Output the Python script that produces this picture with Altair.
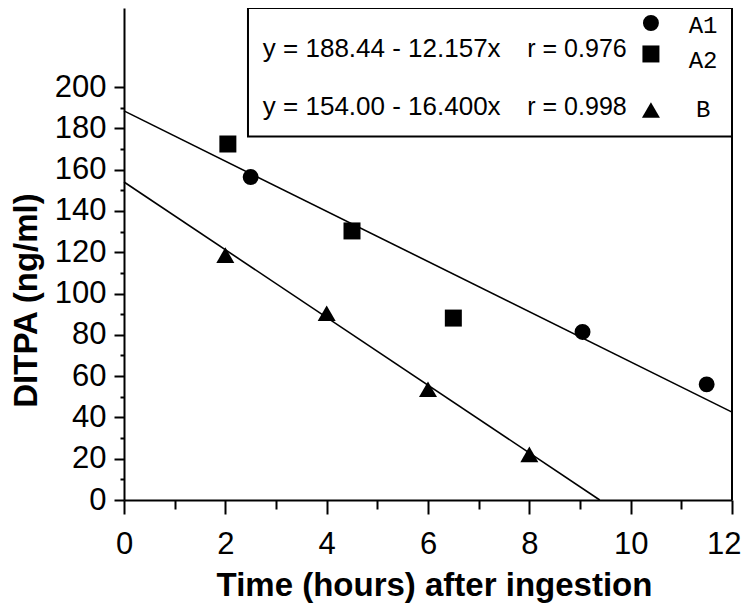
import altair as alt
import pandas as pd

# ---------------- data ----------------
series_names = ["A1", "A2", "B"]
a1_time = [2.5, 9.05, 11.5]
a1_conc = [156.4, 81.4, 56.0]
a2_time = [2.05, 4.5, 6.5]
a2_conc = [172.4, 130.3, 88.1]
b_time = [2.0, 4.0, 6.0, 8.0]
b_conc = [118.6, 90.4, 53.6, 22.1]

fit_names = ["A", "B"]
fit_intercepts = [188.44, 154.00]
fit_slopes = [-12.157, -16.400]
fit_equations = ["y = 188.44 - 12.157x", "y = 154.00 - 16.400x"]
fit_r_labels = ["r = 0.976", "r = 0.998"]

x_major = [0, 2, 4, 6, 8, 10, 12]
x_minor = [1, 3, 5, 7, 9, 11]
y_major = [0, 20, 40, 60, 80, 100, 120, 140, 160, 180, 200]
y_minor = [10, 30, 50, 70, 90, 110, 130, 150, 170, 190]

# ---------------- layout constants ----------------
X_MAX = 12
Y_MAX = 238.26
BOX_X0, BOX_Y0 = 2.447, 176.0
EQ_X, R_X = 2.74, 7.96
ROW_Y = [218.4, 190.3]
SYM_X, SYM_Y = 10.40, [231.0, 216.0, 188.9]
LAB_X, LAB_Y = 11.43, [229.5, 212.6, 188.9]

FONT = "Liberation Sans"
MONO = "Liberation Mono"

# ---------------- tables ----------------
pts = pd.DataFrame(
    {"series": ["A1"] * len(a1_time) + ["A2"] * len(a2_time) + ["B"] * len(b_time),
     "t": a1_time + a2_time + b_time,
     "c": a1_conc + a2_conc + b_conc})

rows = []
for name, b0, b1 in zip(fit_names, fit_intercepts, fit_slopes):
    x_end = min(X_MAX, -b0 / b1)
    rows.append({"fit": name, "t": 0.0, "c": b0})
    rows.append({"fit": name, "t": x_end, "c": b0 + b1 * x_end})
fits = pd.DataFrame(rows)

eq_df = pd.DataFrame({"eq": fit_equations, "r": fit_r_labels, "y": ROW_Y,
                      "xe": [EQ_X] * 2, "xr": [R_X] * 2})
leg_sym = pd.DataFrame({"series": series_names, "x": [SYM_X] * 3, "y": SYM_Y})
leg_lab = pd.DataFrame({"series": series_names, "x": [LAB_X] * 3, "y": LAB_Y})
box_df = pd.DataFrame({"x": [BOX_X0], "x2": [X_MAX], "y": [BOX_Y0], "y2": [Y_MAX]})
border_df = pd.DataFrame({"x": [X_MAX], "y": [0], "y2": [Y_MAX]})

xs = alt.Scale(domain=[0, X_MAX], nice=False, zero=False)
ys = alt.Scale(domain=[0, Y_MAX], nice=False, zero=False)
shape_scale = alt.Scale(domain=series_names, range=["circle", "square", "triangle-up"])
size_scale = alt.Scale(domain=series_names, range=[254, 324, 400])

last_label = "datum.value === %d" % X_MAX
x_axis_major = alt.Axis(
    orient="bottom", values=x_major, format="d", grid=False,
    tickSize=14, tickWidth=2, tickColor="black",
    domainColor="black", domainWidth=2,
    labelFont=FONT, labelFontSize=31, labelColor="black", labelPadding=15,
    labelFlush=False, labelOverlap=False,
    labelAlign={"condition": {"test": last_label, "value": "right"}, "value": "center"},
    labelOffset={"condition": {"test": last_label, "value": 9}, "value": 0},
    title="Time (hours) after ingestion", titleFont=FONT, titleFontSize=33,
    titleFontWeight="bold", titleColor="black", titleBaseline="alphabetic",
    titleAlign="center", titleX=310, titleY=95)
y_axis_major = alt.Axis(
    orient="left", values=y_major, format="d", grid=False,
    tickSize=10, tickWidth=2, tickColor="black",
    domainColor="black", domainWidth=2,
    labelFont=FONT, labelFontSize=31, labelColor="black", labelPadding=8,
    labelFlush=False, labelOverlap=False,
    title="DITPA (ng/ml)", titleFont=FONT, titleFontSize=33,
    titleFontWeight="bold", titleColor="black", titleBaseline="alphabetic",
    titleAlign="center", titleAngle=270, titleX=-88, titleY=292)
x_axis_minor = alt.Axis(orient="bottom", values=x_minor, grid=False, labels=False,
                        domain=False, title=None, tickSize=9, tickWidth=2, tickColor="black")
y_axis_minor = alt.Axis(orient="left", values=y_minor, grid=False, labels=False,
                        domain=False, title=None, tickSize=4, tickWidth=2, tickColor="black")

border = alt.Chart(border_df).mark_rule(color="black", strokeWidth=2).encode(
    x=alt.X("x:Q", scale=xs, axis=x_axis_minor),
    y=alt.Y("y:Q", scale=ys, axis=y_axis_minor), y2="y2:Q")

box = alt.Chart(box_df).mark_rect(fill="white", stroke="black", strokeWidth=2).encode(
    x=alt.X("x:Q", scale=xs, axis=None), x2="x2:Q",
    y=alt.Y("y:Q", scale=ys, axis=None), y2="y2:Q")

lines = alt.Chart(fits).mark_line(color="black", strokeWidth=1.6).encode(
    x=alt.X("t:Q", scale=xs, axis=None),
    y=alt.Y("c:Q", scale=ys, axis=None),
    detail="fit:N")

points = alt.Chart(pts).mark_point(filled=True, color="black", opacity=1).encode(
    x=alt.X("t:Q", scale=xs, axis=x_axis_major),
    y=alt.Y("c:Q", scale=ys, axis=y_axis_major),
    shape=alt.Shape("series:N", scale=shape_scale, legend=None),
    size=alt.Size("series:N", scale=size_scale, legend=None))

eq_text = alt.Chart(eq_df).mark_text(font=FONT, fontSize=26, color="black",
                                     align="left", baseline="middle").encode(
    x=alt.X("xe:Q", scale=xs, axis=None), y=alt.Y("y:Q", scale=ys, axis=None), text="eq:N")
r_text = alt.Chart(eq_df).mark_text(font=FONT, fontSize=25, color="black",
                                    align="left", baseline="middle").encode(
    x=alt.X("xr:Q", scale=xs, axis=None), y=alt.Y("y:Q", scale=ys, axis=None), text="r:N")

leg_points = alt.Chart(leg_sym).mark_point(filled=True, color="black", opacity=1).encode(
    x=alt.X("x:Q", scale=xs, axis=None),
    y=alt.Y("y:Q", scale=ys, axis=None),
    shape=alt.Shape("series:N", scale=shape_scale, legend=None),
    size=alt.Size("series:N", scale=size_scale, legend=None))
leg_text = alt.Chart(leg_lab).mark_text(font=MONO, fontSize=24, color="black",
                                        align="center", baseline="middle").encode(
    x=alt.X("x:Q", scale=xs, axis=None), y=alt.Y("y:Q", scale=ys, axis=None), text="series:N")

chart = alt.layer(
    border, box, lines, points, eq_text, r_text, leg_points, leg_text
).resolve_axis(x="independent", y="independent").properties(
    width=608, height=492,
    padding={"left": 116, "top": 0, "right": 10, "bottom": 103},
    autosize=alt.AutoSizeParams(type="none"),
    background="white",
).configure_view(stroke=None)

chart.save("out.html", embed_options={"renderer": "svg", "actions": False})
